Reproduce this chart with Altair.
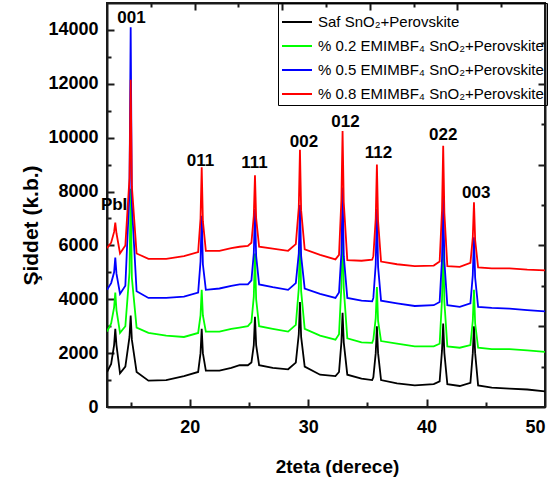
import altair as alt
import pandas as pd

# ---------------- data ----------------
x_grid = [13.0, 13.35, 13.6, 13.7, 13.8, 14.1,
          14.55, 14.9, 15.0, 15.1, 15.5,
          16.5, 18.0, 19.5,
          20.7, 20.9, 21.0, 21.1, 21.35,
          22.5, 23.5, 24.2, 24.9,
          25.2, 25.4, 25.5, 25.6, 25.85,
          27.0, 28.3,
          28.95, 29.2, 29.3, 29.4, 29.7,
          31.0, 32.3,
          32.6, 32.8, 32.9, 33.0, 33.3,
          34.5, 35.4,
          35.5, 35.7, 35.8, 35.9, 36.15,
          37.5, 39.0, 40.6,
          41.1, 41.3, 41.4, 41.5, 41.75,
          42.8,
          43.7, 43.9, 44.0, 44.1, 44.35,
          45.5, 47.0, 48.5, 50.0]

black_y = [1300, 1600, 2300, 2900, 2300, 1250,
           1500, 2600, 3400, 2500, 1300,
           980, 1000, 1150,
           1300, 2000, 2900, 2000, 1350,
           1350, 1450, 1550, 1550,
           1650, 2300, 3350, 2300, 1550,
           1450, 1400,
           1650, 2700, 3900, 2600, 1500,
           1200, 1150,
           1300, 2400, 3500, 2400, 1200,
           1050, 1000,
           1100, 2000, 3000, 2000, 1000,
           880, 800, 850,
           950, 2100, 3100, 2000, 850,
           780,
           900, 2000, 3000, 2000, 800,
           720, 680, 650, 580]

green_y = [2800, 3100, 3700, 4250, 3600, 2750,
           3000, 5000, 8100, 4800, 2950,
           2750, 2650, 2600,
           2750, 3400, 4350, 3400, 2800,
           2800, 2900, 2950, 3000,
           3150, 4100, 5700, 4000, 3000,
           2900, 2800,
           3050, 4400, 6450, 4300, 2900,
           2650, 2500,
           2700, 4500, 6950, 4400, 2550,
           2400, 2380,
           2500, 3300, 4450, 3200, 2450,
           2350, 2250, 2250,
           2350, 4000, 6200, 3900, 2250,
           2200,
           2300, 3200, 4350, 3100, 2200,
           2150, 2150, 2100, 2050]

blue_y = [4350, 4600, 5000, 5550, 4950, 4200,
          4500, 8000, 14100, 7500, 4300,
          4050, 4050, 4100,
          4250, 5400, 7100, 5300, 4350,
          4400, 4500, 4550, 4550,
          4700, 5700, 7350, 5600, 4550,
          4450, 4350,
          4600, 5700, 7500, 5600, 4400,
          4200, 4050,
          4250, 5700, 8150, 5600, 4050,
          3950, 3920,
          4050, 5300, 7350, 5200, 3950,
          3850, 3750, 3780,
          3900, 5500, 7800, 5400, 3780,
          3720,
          3850, 4900, 6300, 4800, 3720,
          3680, 3650, 3600, 3550]

red_y = [5900, 6100, 6500, 6850, 6450, 5700,
         6000, 8500, 12150, 8200, 5700,
         5500, 5500, 5600,
         5750, 7000, 8900, 6900, 5800,
         5800, 5900, 5950, 5980,
         6100, 7100, 8600, 7000, 5950,
         5880, 5800,
         6050, 7400, 9550, 7300, 5850,
         5650, 5480,
         5650, 7700, 10250, 7600, 5450,
         5430, 5470,
         5600, 7000, 9000, 6900, 5400,
         5300, 5230, 5250,
         5400, 7300, 9700, 7200, 5230,
         5200,
         5350, 6300, 7600, 6200, 5180,
         5150, 5150, 5100, 5070]

series_names = ["Saf SnO\u2082+Perovskite",
                "% 0.2 EMIMBF\u2084 SnO\u2082+Perovskite",
                "% 0.5 EMIMBF\u2084 SnO\u2082+Perovskite",
                "% 0.8 EMIMBF\u2084 SnO\u2082+Perovskite"]
series_colors = ["#000000", "#00ff00", "#0000ff", "#ff0000"]

peak_labels = ["PbI", "001", "011", "111", "002", "012", "112", "022", "003"]
peak_label_x = [13.6, 15.07, 20.9, 25.46, 29.64, 33.14, 35.93, 41.4, 44.19]
peak_label_y = [7500, 14460, 9150, 9050, 9830, 10600, 9430, 10100, 7960]

x_label_values = [20, 30, 40, 50]
y_label_values = [0, 2000, 4000, 6000, 8000, 10000, 12000, 14000]
x_major_ticks = [20, 30, 40]
x_minor_ticks = [15, 25, 35, 45]
y_major_ticks = [2000, 4000, 6000, 8000, 10000, 12000, 14000]
y_minor_ticks = [1000, 3000, 5000, 7000, 9000, 11000, 13000]
right_major_ticks = [3000, 6000, 9000, 12000]
right_minor_ticks = [1500, 4500, 7500, 10500, 13500]
top_major_ticks = [20.4, 27.8, 35.2, 42.6]
top_minor_ticks = [16.7, 24.1, 31.5, 38.9, 46.3]

# ---------------- build tables ----------------
rows = []
for name, yv_list in zip(series_names, [black_y, green_y, blue_y, red_y]):
    for i, (xv, yv) in enumerate(zip(x_grid, yv_list)):
        rows.append({"x": xv, "y": yv, "series": name, "ord": i})
df = pd.DataFrame(rows)

labels_df = pd.DataFrame({"label": peak_labels, "x": peak_label_x, "y": peak_label_y})

W, H = 438, 404
FONT = "Liberation Sans"
FRAME = "#1a1a1a"
xs = alt.Scale(domain=[13, 50], nice=False, zero=False)
ysc = alt.Scale(domain=[0, 15000], nice=False, zero=False)

x_axis = alt.Axis(values=x_label_values, title="2teta (derece)",
                  labelPadding=11, titleX=230, titleY=59,
                  titleBaseline="middle", titleAlign="center",
                  labelFont=FONT, labelFontWeight="bold", labelFontSize=18,
                  labelColor="black", titleFont=FONT, titleFontWeight="bold",
                  titleFontSize=19, titleColor="black",
                  domain=True, domainColor=FRAME, domainWidth=2,
                  ticks=False, grid=False)
y_axis = alt.Axis(values=y_label_values, format="d", title="Şiddet (k.b.)",
                  labelPadding=9, titleX=-76, titleY=222, titleAngle=270,
                  titleAlign="center", titleBaseline="middle",
                  labelFont=FONT, labelFontWeight="bold", labelFontSize=18,
                  labelColor="black", titleFont=FONT, titleFontWeight="bold",
                  titleFontSize=21, titleColor="black",
                  domain=True, domainColor=FRAME, domainWidth=2,
                  ticks=False, grid=False)

lines = alt.Chart(df).mark_line(strokeWidth=1.8, clip=True).encode(
    x=alt.X("x:Q", scale=xs, axis=x_axis),
    y=alt.Y("y:Q", scale=ysc, axis=y_axis),
    color=alt.Color("series:N",
                    scale=alt.Scale(domain=series_names, range=series_colors),
                    legend=alt.Legend(orient="none", legendX=171, legendY=0,
                                      title=None, symbolType="stroke",
                                      symbolSize=900, symbolStrokeWidth=2,
                                      labelFont=FONT, labelFontSize=15,
                                      labelColor="black", labelLimit=400,
                                      labelOffset=5, rowPadding=0, padding=3,
                                      strokeColor="black")),
    order="ord:Q",
)

# peak labels; this layer also carries the top and right frame lines
texts = alt.Chart(labels_df).mark_text(
    font=FONT, fontWeight="bold", fontSize=17, color="black",
    align="center", baseline="middle"
).encode(
    x=alt.X("x:Q", scale=xs,
            axis=alt.Axis(orient="top", domain=True, domainColor=FRAME, domainWidth=2,
                          ticks=False, labels=False, grid=False, title=None)),
    y=alt.Y("y:Q", scale=ysc,
            axis=alt.Axis(orient="right", domain=True, domainColor=FRAME, domainWidth=2,
                          ticks=False, labels=False, grid=False, title=None)),
    text="label:N",
)


def tick_axis(orient, vals, size):
    # an axis pushed inside the plot by its own tick length: ticks point inward
    return alt.Axis(orient=orient, offset=-size, values=vals, tickSize=size,
                    tickWidth=2, tickColor=FRAME, labels=False,
                    domain=False, grid=False, title=None)


def tick_layer(xo, xv, xsz, yo, yv, ysz):
    return alt.Chart(pd.DataFrame({"x": [20], "y": [0]})).mark_point(opacity=0).encode(
        x=alt.X("x:Q", scale=xs, axis=tick_axis(xo, xv, xsz)),
        y=alt.Y("y:Q", scale=ysc, axis=tick_axis(yo, yv, ysz)),
    )


tick_layers = [
    tick_layer("bottom", x_major_ticks, 8, "left", y_major_ticks, 7),
    tick_layer("bottom", x_minor_ticks, 5, "left", y_minor_ticks, 4),
    tick_layer("top", top_major_ticks, 7, "right", right_major_ticks, 7),
    tick_layer("top", top_minor_ticks, 4, "right", right_minor_ticks, 4),
]

chart = alt.layer(lines, texts, *tick_layers).resolve_axis(
    x="independent", y="independent"
).properties(
    width=W, height=H,
    background="white",
    autosize=alt.AutoSizeParams(type="none"),
    padding={"left": 107, "top": 3, "right": 10, "bottom": 75},
).configure_view(
    stroke=FRAME, strokeWidth=2
)

chart.save("out.html", embed_options={"renderer": "svg", "actions": False})
